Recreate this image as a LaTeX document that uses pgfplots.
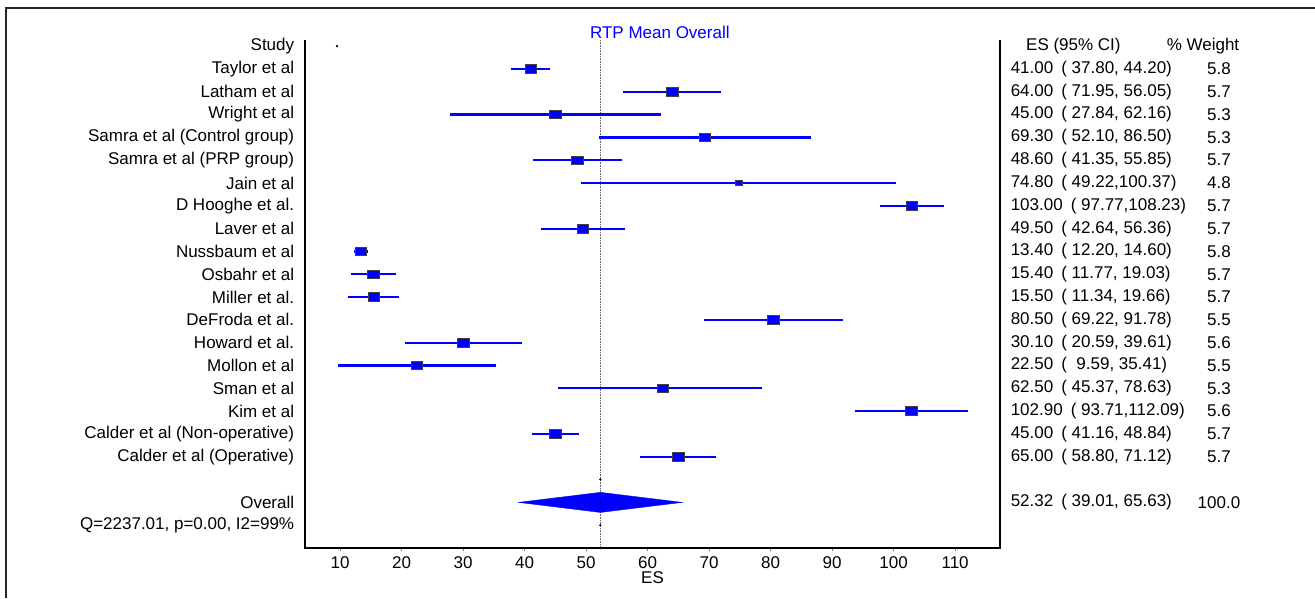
\documentclass[border=0pt]{standalone}
\usepackage{fontspec}
\setmainfont{Liberation Sans}
\usepackage{pgfplots}
\pgfplotsset{compat=1.18}
\usepackage{pgfplotstable}

% row, effect size, lower and upper CI, marker half-size (pt)
\pgfplotstableread{
row es lo hi ms
1 41.00 37.80 44.20 4.3
2 64.00 56.05 71.95 4.3
3 45.00 27.84 62.16 4.3
4 69.30 52.10 86.50 4.3
5 48.60 41.35 55.85 4.3
6 74.80 49.22 100.37 2.7
7 103.00 97.77 108.23 4.3
8 49.50 42.64 56.36 4.3
9 13.40 12.20 14.60 4.3
10 15.40 11.77 19.03 4.3
11 15.50 11.34 19.66 4.3
12 80.50 69.22 91.78 4.3
13 30.10 20.59 39.61 4.3
14 22.50 9.59 35.41 4.3
15 62.50 45.37 78.63 4.3
16 102.90 93.71 112.09 4.3
17 45.00 41.16 48.84 4.3
18 65.00 58.80 71.12 4.3
}\studies

\newcommand\fs{\fontsize{17}{20}\selectfont}
\newcommand\gap{\hspace{8pt}}

\begin{document}
\fs
\begin{tikzpicture}
\path[use as bounding box] (0pt,0pt) rectangle (1315pt,598pt);
\draw[line width=1.5pt, black!85] (6pt,0pt) -- (6pt,590pt) -- (1315pt,590pt);
\begin{axis}[
  at={(305pt,50pt)}, anchor=south west,
  width=695pt, height=508pt, scale only axis,
  xmin=4.3, xmax=117.3,
  ymin=-0.27, ymax=22, y dir=reverse,
  axis line style={draw=none},
  clip=false,
  xtick={10,20,...,110}, xtick pos=bottom, tick align=outside,
  major tick length=3pt,
  x tick style={black!50, thin},
  ytick={0,1,...,18,20,21}, ytick pos=left,
  y tick style={draw=none},
  yticklabels={Study, Taylor et al, Latham et al, Wright et al,
    Samra et al (Control group), Samra et al (PRP group), Jain et al,
    D Hooghe et al., Laver et al, Nussbaum et al, Osbahr et al,
    Miller et al., DeFroda et al., Howard et al., Mollon et al,
    Sman et al, Kim et al, Calder et al (Non-operative),
    Calder et al (Operative), Overall, {Q=2237.01, p=0.00, I2=99\%}},
  yticklabel style={font=\fs, xshift=-2pt},
  xticklabel style={font=\fs},
  /pgf/number format/assume math mode=true,
]
% reference line at the pooled estimate
\addplot[black!60, line width=0.7pt, dash pattern=on 1pt off 0.6pt]
  coordinates {(52.32,-0.27) (52.32,22)};

% confidence intervals
\addplot[only marks, mark=none, error bars/.cd, x dir=both, x explicit,
  error mark=none, error bar style={blue, line width=2.2pt}]
  table[x=es, y=row, x error plus expr=\thisrow{hi}-\thisrow{es},
        x error minus expr=\thisrow{es}-\thisrow{lo}] {\studies};

% study estimates
\addplot[scatter, only marks, mark=square*,
  scatter/use mapped color={draw=black!75, fill=blue},
  visualization depends on={\thisrow{ms} \as \ms},
  scatter/@pre marker code/.append style={/tikz/mark size=\ms pt, /tikz/xscale=1.35},
  mark options={line width=0.8pt}]
  table[x=es, y=row] {\studies};

% pooled estimate
\addplot[fill=blue, draw=blue] coordinates
  {(39.01,20) (52.32,19.56) (65.63,20) (52.32,20.44)} -- cycle;

% small dots
\addplot[only marks, mark=*, mark size=0.9pt, black]
  coordinates {(9.5,0) (52.32,19) (52.32,20) (52.32,21)};

% frame: left, bottom, right
\draw[line width=2pt] (axis cs:4.3,-0.27) -- (axis cs:4.3,22)
  -- (axis cs:117.3,22) -- (axis cs:117.3,-0.27);

\node[text=blue] at (axis cs:62,-0.61) {RTP Mean Overall};
\node at (axis cs:60.8,23.32) {ES};

% right-hand columns
\node[anchor=west] at (axis cs:120.6,0) {ES (95\% CI)};
\node at (axis cs:150.3,0) {\% Weight};
\node[anchor=west] at (axis cs:118.1,1) {41.00\gap( 37.80, 44.20)};
\node[anchor=west] at (axis cs:118.1,2) {64.00\gap( 71.95, 56.05)};
\node[anchor=west] at (axis cs:118.1,3) {45.00\gap( 27.84, 62.16)};
\node[anchor=west] at (axis cs:118.1,4) {69.30\gap( 52.10, 86.50)};
\node[anchor=west] at (axis cs:118.1,5) {48.60\gap( 41.35, 55.85)};
\node[anchor=west] at (axis cs:118.1,6) {74.80\gap( 49.22,100.37)};
\node[anchor=west] at (axis cs:118.1,7) {103.00\gap( 97.77,108.23)};
\node[anchor=west] at (axis cs:118.1,8) {49.50\gap( 42.64, 56.36)};
\node[anchor=west] at (axis cs:118.1,9) {13.40\gap( 12.20, 14.60)};
\node[anchor=west] at (axis cs:118.1,10) {15.40\gap( 11.77, 19.03)};
\node[anchor=west] at (axis cs:118.1,11) {15.50\gap( 11.34, 19.66)};
\node[anchor=west] at (axis cs:118.1,12) {80.50\gap( 69.22, 91.78)};
\node[anchor=west] at (axis cs:118.1,13) {30.10\gap( 20.59, 39.61)};
\node[anchor=west] at (axis cs:118.1,14) {22.50\gap(\ \ 9.59, 35.41)};
\node[anchor=west] at (axis cs:118.1,15) {62.50\gap( 45.37, 78.63)};
\node[anchor=west] at (axis cs:118.1,16) {102.90\gap( 93.71,112.09)};
\node[anchor=west] at (axis cs:118.1,17) {45.00\gap( 41.16, 48.84)};
\node[anchor=west] at (axis cs:118.1,18) {65.00\gap( 58.80, 71.12)};
\node[anchor=west] at (axis cs:118.1,20) {52.32\gap( 39.01, 65.63)};
\node at (axis cs:152.9,1) {5.8};
\node at (axis cs:152.9,2) {5.7};
\node at (axis cs:152.9,3) {5.3};
\node at (axis cs:152.9,4) {5.3};
\node at (axis cs:152.9,5) {5.7};
\node at (axis cs:152.9,6) {4.8};
\node at (axis cs:152.9,7) {5.7};
\node at (axis cs:152.9,8) {5.7};
\node at (axis cs:152.9,9) {5.8};
\node at (axis cs:152.9,10) {5.7};
\node at (axis cs:152.9,11) {5.7};
\node at (axis cs:152.9,12) {5.5};
\node at (axis cs:152.9,13) {5.6};
\node at (axis cs:152.9,14) {5.5};
\node at (axis cs:152.9,15) {5.3};
\node at (axis cs:152.9,16) {5.6};
\node at (axis cs:152.9,17) {5.7};
\node at (axis cs:152.9,18) {5.7};
\node at (axis cs:152.9,20) {100.0};
\end{axis}
\end{tikzpicture}
\end{document}
